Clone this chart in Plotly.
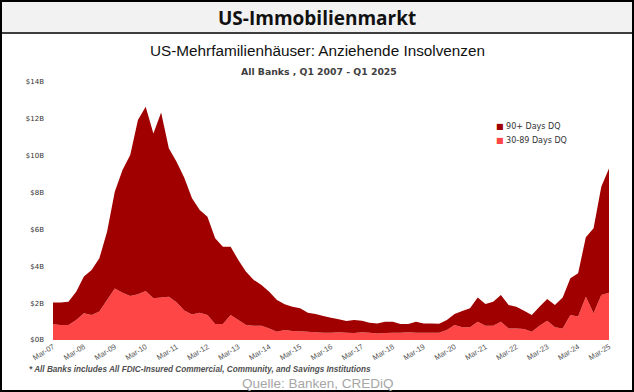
import plotly.graph_objects as go

# ---------------- data ----------------
months = ["Mar", "Jun", "Sep", "Dec"]
quarters = [f"{m}-{y % 100:02d}" for y in range(2007, 2026) for m in months][:73]
tick_labels = quarters[::4]

dq_30_89 = [0.85, 0.81, 0.81, 1.08, 1.45, 1.36, 1.54, 2.17, 2.80, 2.57,
            2.39, 2.48, 2.66, 2.26, 2.30, 2.35, 2.05, 1.60, 1.39, 1.48,
            1.36, 0.87, 0.87, 1.36, 1.08, 0.81, 0.78, 0.78, 0.63, 0.45,
            0.54, 0.49, 0.47, 0.45, 0.42, 0.40, 0.40, 0.42, 0.40, 0.38,
            0.42, 0.40, 0.35, 0.38, 0.40, 0.40, 0.42, 0.40, 0.40, 0.40,
            0.40, 0.54, 0.81, 0.69, 0.69, 0.99, 0.78, 0.78, 0.99, 0.63,
            0.63, 0.60, 0.45, 0.78, 1.05, 0.69, 0.63, 1.36, 1.27, 2.35,
            1.45, 2.44, 2.57]

dq_90_plus = [1.18, 1.22, 1.27, 1.54, 1.99, 2.44, 2.89, 3.71, 5.25, 6.65,
              7.65, 9.46, 10.00, 8.94, 10.05, 8.05, 7.62, 7.20, 6.30, 5.57,
              5.33, 4.65, 4.19, 3.70, 3.26, 2.90, 2.48, 2.20, 1.99, 1.72,
              1.40, 1.32, 1.25, 1.03, 0.99, 0.90, 0.81, 0.70, 0.63, 0.70,
              0.63, 0.54, 0.55, 0.61, 0.59, 0.47, 0.45, 0.59, 0.50, 0.50,
              0.48, 0.54, 0.60, 0.88, 1.03, 1.31, 1.17, 1.30, 1.45, 1.27,
              1.18, 0.99, 0.91, 1.03, 1.17, 1.21, 1.67, 1.99, 2.35, 3.22,
              4.61, 5.88, 6.73]

y_tickvals = [0, 2, 4, 6, 8, 10, 12, 14]
y_ticktext = ["$0B", "$2B", "$4B", "$6B", "$8B", "$10B", "$12B", "$14B"]

legend_names = ["90+ Days DQ", "30-89 Days DQ"]

# ---------------- layout constants ----------------
W, H = 634, 392
L, R, T, B = 53, 25, 82, 52
PW, PH = W - L - R, H - T - B

DARK = "#A00000"
LIGHT = "#FF4646"


def px_x(px):
    return (px - L) / PW


def px_y(py):
    return (H - B - py) / PH


fig = go.Figure()
fig.add_trace(go.Scatter(x=quarters, y=dq_30_89, name=legend_names[1],
                         stackgroup="dq", mode="none", fillcolor=LIGHT,
                         showlegend=False))
fig.add_trace(go.Scatter(x=quarters, y=dq_90_plus, name=legend_names[0],
                         stackgroup="dq", mode="none", fillcolor=DARK,
                         showlegend=False))

shapes = [
    # header band
    dict(type="rect", xref="paper", yref="paper",
         x0=px_x(0), x1=px_x(W), y0=px_y(33), y1=px_y(0),
         fillcolor="#F2F2F2", line=dict(width=0), layer="below"),
    dict(type="line", xref="paper", yref="paper",
         x0=px_x(0), x1=px_x(W), y0=px_y(33), y1=px_y(33),
         line=dict(color="#000000", width=1.5)),
    # outer border
    dict(type="rect", xref="paper", yref="paper",
         x0=px_x(1), x1=px_x(W - 1), y0=px_y(H - 1), y1=px_y(1),
         line=dict(color="#000000", width=2)),
]

annotations = [
    dict(text="<b>US-Immobilienmarkt</b>", x=px_x(317), y=px_y(18),
         font=dict(family="Open Sans, Liberation Sans", size=19, color="#111111")),
    dict(text="US-Mehrfamilienhäuser: Anziehende Insolvenzen", x=px_x(317), y=px_y(50),
         font=dict(family="Liberation Sans, Arial", size=15.3, color="#111111")),
    dict(text="<b>All Banks , Q1 2007 - Q1 2025</b>", x=px_x(319), y=px_y(72),
         font=dict(family="DejaVu Sans, Liberation Sans", size=9.3, color="#404040")),
    dict(text="<i><b>* All Banks includes All FDIC-Insured Commercial, Community, and Savings Institutions</b></i>",
         x=px_x(27), y=px_y(369), xanchor="left",
         font=dict(family="Liberation Sans, Arial", size=8.2, color="#505050")),
    dict(text="Quelle: Banken, CREDiQ", x=px_x(318), y=px_y(383),
         font=dict(family="Liberation Sans, Arial", size=13.5, color="#A6A6A6")),
    # legend
    dict(text=f'<span style="color:{DARK}">■</span> {legend_names[0]}',
         x=px_x(494), y=px_y(126), xanchor="left",
         font=dict(family="DejaVu Sans, Liberation Sans", size=8, color="#333333")),
    dict(text=f'<span style="color:{LIGHT}">■</span> {legend_names[1]}',
         x=px_x(494), y=px_y(140), xanchor="left",
         font=dict(family="DejaVu Sans, Liberation Sans", size=8, color="#333333")),
]
for a in annotations:
    a.update(xref="paper", yref="paper", showarrow=False, yanchor="middle",
             xanchor=a.get("xanchor", "center"))

fig.update_layout(
    width=W, height=H,
    margin=dict(l=L, r=R, t=T, b=B, pad=0),
    paper_bgcolor="#FFFFFF", plot_bgcolor="#FFFFFF",
    shapes=shapes, annotations=annotations,
    showlegend=False,
    xaxis=dict(type="category", range=[0, 72], tickmode="array",
               tickvals=tick_labels, ticktext=tick_labels, tickangle=-32,
               showgrid=False, zeroline=False, showline=False, ticks="",
               tickfont=dict(family="Liberation Sans, Arial", size=7.5, color="#555555")),
    yaxis=dict(range=[0, 14], tickmode="array", tickvals=y_tickvals, ticktext=y_ticktext,
               showgrid=False, zeroline=False, showline=False, ticks="",
               ticklabelstandoff=8,
               tickfont=dict(family="DejaVu Sans, Liberation Sans", size=7, color="#333333")),
)

fig.write_html("out.html", config={"displayModeBar": False},
               post_script="document.body.style.margin='0';document.body.style.padding='0';")
